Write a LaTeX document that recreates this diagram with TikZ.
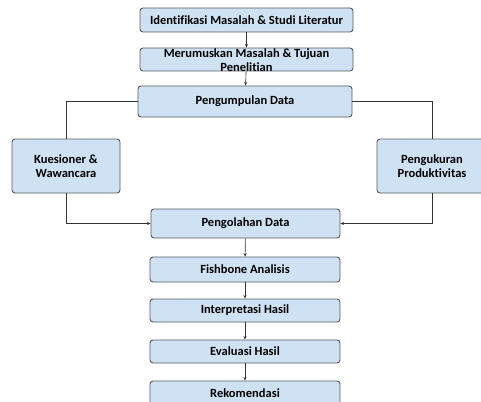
\documentclass[tikz,border=0pt]{standalone}
\usepackage{fontspec}
\setmainfont{Carlito}[Ligatures=NoCommon]
\usetikzlibrary{arrows.meta}
\definecolor{boxfill}{HTML}{CFE2F3}
\definecolor{boxline}{HTML}{5A5A5A}
\tikzset{
  boxfont/.style={font=\bfseries\fontsize{12.5}{14}\selectfont},
  stepbox/.style={draw=boxline, line width=0.9pt, fill=boxfill, rounded corners=3pt,
    align=center, boxfont, inner sep=1pt},
  link/.style={draw=black!80, line width=0.6pt, -{Stealth[length=3.5pt, width=3pt]}},
  plain/.style={draw=black!80, line width=0.6pt}
}
\begin{document}
\begin{tikzpicture}[x=1pt, y=-1pt]
    \clip (0, 0) rectangle (481, 401);
    \node [stepbox, minimum width=213pt, minimum height=24pt] (ident) at (246.5, 20) {Identifikasi Masalah \& Studi Literatur};
    \node [stepbox, minimum width=213pt, minimum height=23pt,
      label={[boxfont, align=center, yshift=-1pt]center:Merumuskan Masalah \& Tujuan\\Penelitian}] (rumus) at (246.5, 59.5) {};
    \node [stepbox, minimum width=214pt, minimum height=31pt] (kumpul) at (245, 101.5) {Pengumpulan Data};
    \node [stepbox, minimum width=108pt, minimum height=54pt] (kuesioner) at (66, 166) {Kuesioner \&\\Wawancara};
    \node [stepbox, minimum width=110pt, minimum height=54pt] (ukur) at (432, 166) {Pengukuran\\Produktivitas};
    \node [stepbox, minimum width=189pt, minimum height=29pt] (olah) at (245.5, 223.5) {Pengolahan Data};
    \node [stepbox, minimum width=190pt, minimum height=25pt] (fish) at (245, 269.5) {Fishbone Analisis};
    \node [stepbox, minimum width=190pt, minimum height=23pt] (interp) at (245, 310.5) {Interpretasi Hasil};
    \node [stepbox, minimum width=190pt, minimum height=23pt] (eval) at (245, 351.5) {Evaluasi Hasil};
    \node [stepbox, minimum width=190pt, minimum height=24pt] (rekom) at (245, 393) {Rekomendasi};
    % connectors
    \draw [link] (ident) -- (rumus);
    \draw [link] (rumus) -- (kumpul);
    \draw [plain] (kumpul.west) -| (kuesioner.north);
    \draw [plain] (kumpul.east) -| (ukur.north);
    \draw [link] (kuesioner.south) |- (olah.west);
    \draw [link] (ukur.south) |- (olah.east);
    \draw [link] (olah) -- (fish);
    \draw [link] (fish) -- (interp);
    \draw [link] (interp) -- (eval);
    \draw [link] (eval) -- (rekom);
\end{tikzpicture}
\end{document}
